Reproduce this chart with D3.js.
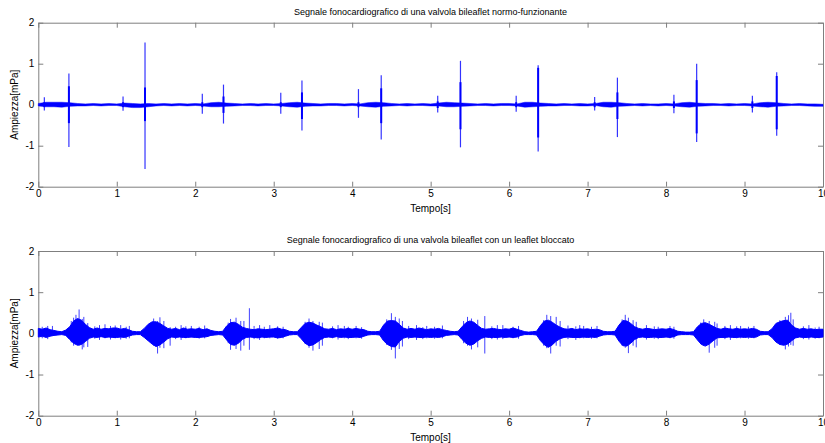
<!DOCTYPE html>
<html>
<head>
<meta charset="utf-8">
<script src="https://cdn.jsdelivr.net/npm/d3@7"></script>
<style>
  body { margin: 0; background: #fff; }
  text { font-family: "Liberation Sans", Arial, sans-serif; fill: #000; }
  .axis path, .axis line { stroke: #7f7f7f; }
  .axis text { font-size: 10px; }
</style>
</head>
<body>
<div id="chart"></div>
<script>
// ---- data ----
// top plot: baseline envelope every 0.1 s
var topHi = [
  .03,.06,.06,.06,.05,.03,.02,.03,.02,.03,
  .02,.04,.03,.02,.03,.02,.03,.02,.03,.02,
  .03,.02,.05,.06,.04,.03,.02,.03,.02,.03,
  .02,.03,.05,.06,.04,.03,.02,.03,.03,.02,
  .03,.02,.05,.06,.05,.03,.02,.03,.02,.03,
  .02,.04,.06,.05,.04,.03,.02,.03,.02,.03,
  .03,.02,.06,.06,.04,.03,.02,.03,.02,.03,
  .02,.03,.06,.06,.05,.03,.02,.03,.02,.02,
  .03,.02,.05,.06,.04,.03,.03,.02,.03,.02,
  .03,.02,.05,.06,.05,.03,.02,.03,.02,.02,
  .01];
var topLo = [
  -.03,-.05,-.05,-.06,-.04,-.03,-.03,-.02,-.03,-.02,
  -.02,-.05,-.07,-.07,-.05,-.03,-.02,-.03,-.02,-.03,
  -.02,-.03,-.05,-.05,-.04,-.03,-.02,-.02,-.03,-.02,
  -.02,-.03,-.05,-.06,-.04,-.03,-.03,-.02,-.02,-.03,
  -.02,-.03,-.05,-.06,-.04,-.03,-.02,-.03,-.02,-.02,
  -.03,-.03,-.05,-.05,-.04,-.03,-.02,-.02,-.03,-.02,
  -.02,-.03,-.06,-.05,-.04,-.03,-.03,-.02,-.02,-.03,
  -.03,-.02,-.05,-.06,-.04,-.03,-.02,-.03,-.02,-.03,
  -.02,-.03,-.05,-.06,-.04,-.03,-.02,-.02,-.03,-.02,
  -.02,-.03,-.05,-.06,-.04,-.03,-.02,-.02,-.03,-.04,
  -.04];
// top plot: valve clicks
var spikeT  = [0.077,0.39,1.08,1.36,2.09,2.36,3.09,3.36,4.08,4.37,5.09,5.38,6.09,6.37,7.09,7.38,8.10,8.39,9.10,9.41];
var spikeHi = [0.18,0.76,0.20,1.52,0.27,0.49,0.29,0.59,0.38,0.72,0.22,1.07,0.22,0.96,0.19,0.66,0.24,1.00,0.22,0.79];
var spikeLo = [-0.14,-1.03,-0.15,-1.57,-0.22,-0.46,-0.22,-0.63,-0.32,-0.85,-0.19,-1.04,-0.17,-1.14,-0.14,-0.79,-0.21,-0.91,-0.19,-0.76];
var coreHi  = [0.06,0.45,0.06,0.42,0.06,0.20,0.06,0.30,0.06,0.40,0.08,0.55,0.06,0.90,0.06,0.30,0.08,0.60,0.08,0.70];
var coreLo  = [-0.06,-0.45,-0.06,-0.40,-0.06,-0.20,-0.06,-0.35,-0.06,-0.45,-0.08,-0.60,-0.06,-0.80,-0.06,-0.35,-0.08,-0.70,-0.08,-0.60];

// bottom plot: envelope every 0.05 s
var botHi = [
  .12,.10,.13,.09,.07,.05,.04,.08,.16,.30,.36,.32,.22,.14,.10,.13,.10,.12,.11,.13,
  .13,.10,.12,.09,.05,.04,.04,.12,.22,.28,.28,.24,.18,.12,.10,.12,.09,.13,.10,.11,
  .10,.12,.09,.11,.07,.05,.04,.05,.18,.26,.27,.22,.15,.12,.10,.09,.11,.10,.09,.10,
  .11,.13,.10,.09,.05,.04,.04,.14,.24,.27,.25,.20,.16,.11,.10,.12,.09,.11,.10,.12,
  .10,.12,.10,.09,.05,.04,.04,.05,.20,.30,.31,.30,.22,.13,.10,.12,.10,.13,.11,.09,
  .11,.10,.12,.09,.07,.05,.04,.05,.16,.26,.30,.27,.19,.12,.10,.11,.12,.10,.09,.11,
  .10,.13,.10,.07,.04,.03,.04,.05,.19,.30,.32,.27,.20,.15,.11,.10,.12,.09,.11,.10,
  .11,.09,.10,.09,.05,.04,.04,.05,.20,.31,.30,.24,.16,.12,.10,.12,.11,.09,.10,.11,
  .10,.12,.09,.05,.04,.03,.03,.04,.16,.24,.26,.22,.17,.12,.10,.13,.11,.10,.12,.10,
  .11,.10,.12,.10,.05,.04,.04,.11,.24,.28,.31,.32,.20,.13,.10,.12,.10,.11,.09,.10,
  .10];
var botLo = [
  -.09,-.07,-.10,-.07,-.05,-.04,-.03,-.05,-.15,-.24,-.29,-.27,-.20,-.12,-.09,-.10,-.08,-.10,-.09,-.10,
  -.10,-.09,-.10,-.07,-.04,-.03,-.03,-.10,-.18,-.26,-.32,-.28,-.21,-.13,-.09,-.10,-.09,-.10,-.10,-.09,
  -.10,-.10,-.09,-.08,-.05,-.04,-.03,-.04,-.16,-.27,-.29,-.24,-.15,-.10,-.09,-.10,-.11,-.09,-.10,-.09,
  -.09,-.11,-.10,-.07,-.04,-.03,-.03,-.13,-.24,-.30,-.28,-.22,-.15,-.10,-.09,-.10,-.08,-.10,-.09,-.10,
  -.10,-.09,-.10,-.07,-.04,-.03,-.03,-.04,-.18,-.27,-.32,-.33,-.20,-.12,-.09,-.10,-.09,-.10,-.10,-.09,
  -.10,-.09,-.10,-.08,-.05,-.04,-.03,-.04,-.15,-.24,-.29,-.26,-.18,-.12,-.09,-.10,-.10,-.10,-.09,-.10,
  -.09,-.10,-.09,-.05,-.03,-.03,-.03,-.04,-.18,-.28,-.34,-.28,-.19,-.13,-.10,-.09,-.10,-.10,-.10,-.09,
  -.10,-.09,-.10,-.07,-.04,-.03,-.03,-.04,-.19,-.30,-.31,-.24,-.15,-.10,-.09,-.10,-.10,-.09,-.10,-.10,
  -.09,-.10,-.08,-.04,-.03,-.03,-.03,-.04,-.16,-.27,-.31,-.26,-.18,-.11,-.10,-.10,-.09,-.10,-.10,-.09,
  -.10,-.09,-.10,-.09,-.04,-.03,-.03,-.10,-.21,-.27,-.29,-.26,-.18,-.11,-.09,-.10,-.10,-.09,-.10,-.10,
  -.09];
// bottom plot: narrow peaks sticking out of the envelope
var tipT  = [0.05,0.12,0.18,0.42,0.45,0.48,0.52,0.56,0.58,0.63,0.72,0.78,0.85,0.92,0.98,1.05,1.12,1.16,
             1.42,1.47,1.52,1.55,1.60,1.68,1.75,1.82,1.88,1.95,2.05,2.12,2.42,2.45,2.52,2.58,2.62,2.69,
             2.75,2.82,2.88,2.95,3.05,3.12,3.40,3.45,3.50,3.58,3.62,3.75,3.82,3.90,3.95,4.05,4.12,
             4.44,4.50,4.55,4.60,4.64,4.72,4.82,4.90,4.95,5.05,5.15,5.42,5.47,5.52,5.60,5.69,5.78,
             5.85,5.92,6.05,6.12,6.44,6.48,6.53,6.60,6.65,6.75,6.85,6.90,6.95,7.05,7.12,7.44,7.48,
             7.52,7.58,7.62,7.75,7.85,7.90,8.05,8.10,8.44,8.48,8.55,8.62,8.65,8.75,8.82,8.90,8.95,
             9.05,9.12,9.45,9.52,9.56,9.59,9.62,9.75,9.82,9.90,9.95];
var tipHi = [0.16,0.18,0.18,0.30,0.38,0.45,0.58,0.35,0.40,0.25,0.17,0.20,0.22,0.18,0.19,0.20,0.16,0.18,
             0.25,0.36,0.30,0.39,0.30,0.15,0.16,0.20,0.17,0.18,0.16,0.19,0.26,0.35,0.38,0.30,0.30,0.61,
             0.18,0.20,0.16,0.20,0.17,0.16,0.28,0.36,0.30,0.28,0.26,0.17,0.20,0.18,0.16,0.18,0.15,
             0.34,0.49,0.40,0.36,0.30,0.18,0.20,0.15,0.18,0.16,0.19,0.30,0.40,0.36,0.33,0.42,0.17,
             0.20,0.20,0.16,0.18,0.32,0.45,0.42,0.40,0.30,0.19,0.17,0.20,0.18,0.16,0.18,0.34,0.45,
             0.38,0.32,0.28,0.20,0.17,0.16,0.18,0.16,0.26,0.34,0.30,0.28,0.24,0.18,0.20,0.17,0.18,
             0.16,0.18,0.32,0.40,0.44,0.50,0.34,0.17,0.20,0.14,0.16];
var tipLo = [-0.12,-0.14,-0.05,-0.22,-0.30,-0.25,-0.30,-0.39,-0.34,-0.33,-0.13,-0.16,-0.12,-0.15,-0.12,-0.15,-0.13,-0.12,
             -0.20,-0.30,-0.49,-0.35,-0.36,-0.30,-0.14,-0.16,-0.12,-0.10,-0.13,-0.12,-0.24,-0.40,-0.38,-0.42,-0.30,-0.40,
             -0.14,-0.16,-0.12,-0.12,-0.13,-0.12,-0.26,-0.35,-0.42,-0.38,-0.30,-0.12,-0.15,-0.12,-0.14,-0.12,-0.13,
             -0.28,-0.40,-0.61,-0.38,-0.32,-0.14,-0.16,-0.14,-0.12,-0.13,-0.12,-0.24,-0.30,-0.39,-0.34,-0.49,-0.14,
             -0.15,-0.14,-0.12,-0.13,-0.30,-0.36,-0.49,-0.30,-0.32,-0.14,-0.16,-0.12,-0.12,-0.13,-0.12,-0.30,-0.35,
             -0.48,-0.30,-0.34,-0.15,-0.13,-0.14,-0.12,-0.13,-0.26,-0.30,-0.47,-0.35,-0.30,-0.14,-0.16,-0.12,-0.12,
             -0.13,-0.12,-0.28,-0.39,-0.32,-0.28,-0.30,-0.14,-0.15,-0.13,-0.12];

var xTicks = [0,1,2,3,4,5,6,7,8,9,10];
var yTicks = [-2,-1,0,1,2];

var titles = [
  "Segnale fonocardiografico di una valvola bileaflet normo-funzionante",
  "Segnale fonocardiografico di una valvola bileaflet con un leaflet bloccato"
];

var width = 825, height = 443;
var blue = "#0000ff";

var svg = d3.select("#chart").append("svg")
    .attr("width", width)
    .attr("height", height);

var x = d3.scaleLinear().domain([0, 10]).range([38.3, 823]);

function drawAxes(top, bottom, title) {
  var y = d3.scaleLinear().domain([-2, 2]).range([bottom, top]);
  var g = svg.append("g");

  g.append("g").attr("class", "axis")
    .attr("transform", `translate(0,${bottom})`)
    .call(d3.axisBottom(x).tickValues(xTicks).tickSize(-5).tickSizeOuter(0).tickPadding(3)
      .tickFormat(d => String(d)));
  g.append("g").attr("class", "axis")
    .attr("transform", `translate(0,${top})`)
    .call(d3.axisTop(x).tickValues(xTicks).tickSize(-5).tickSizeOuter(0).tickFormat(""));
  g.append("g").attr("class", "axis")
    .attr("transform", "translate(38.3,0)")
    .call(d3.axisLeft(y).tickValues(yTicks).tickSize(-5).tickSizeOuter(0).tickPadding(4)
      .tickFormat(d => String(d)));
  g.append("g").attr("class", "axis")
    .attr("transform", "translate(823,0)")
    .call(d3.axisRight(y).tickValues(yTicks).tickSize(-5).tickSizeOuter(0).tickFormat(""));

  g.append("text")
    .attr("x", 430.5).attr("y", top - 8)
    .attr("text-anchor", "middle")
    .style("font-size", "9px")
    .text(title);

  g.append("text")
    .attr("x", 430.5).attr("y", bottom + 25)
    .attr("text-anchor", "middle")
    .style("font-size", "10px")
    .text("Tempo[s]");

  g.append("text")
    .attr("transform", `translate(18,${(top + bottom) / 2})rotate(-90)`)
    .attr("text-anchor", "middle")
    .style("font-size", "10px")
    .text("Ampiezza[mPa]");

  return y;
}

// ---- top subplot ----
var yTop = drawAxes(22.7, 186.7, titles[0]);
var topT = topHi.map((d, i) => i * 0.1);

var topArea = d3.area()
    .x((d, i) => x(topT[i]))
    .y0((d, i) => yTop(topLo[i]))
    .y1(d => yTop(d));

svg.append("path")
    .datum(topHi)
    .attr("d", topArea)
    .attr("fill", blue)
    .attr("stroke", blue)
    .attr("stroke-width", 0.5);

svg.append("g").selectAll("line")
    .data(spikeT)
    .enter().append("line")
    .attr("x1", d => x(d)).attr("x2", d => x(d))
    .attr("y1", (d, i) => yTop(spikeHi[i]))
    .attr("y2", (d, i) => yTop(spikeLo[i]))
    .attr("stroke", blue)
    .attr("stroke-opacity", 0.8)
    .attr("stroke-width", 1.2);

svg.append("g").selectAll("line")
    .data(spikeT)
    .enter().append("line")
    .attr("x1", d => x(d)).attr("x2", d => x(d))
    .attr("y1", (d, i) => yTop(coreHi[i]))
    .attr("y2", (d, i) => yTop(coreLo[i]))
    .attr("stroke", blue)
    .attr("stroke-width", 2);

// ---- bottom subplot ----
var yBot = drawAxes(251, 415.7, titles[1]);
var botT = botHi.map((d, i) => i * 0.05);

var botArea = d3.area()
    .x((d, i) => x(botT[i]))
    .y0((d, i) => yBot(botLo[i]))
    .y1(d => yBot(d));

svg.append("path")
    .datum(botHi)
    .attr("d", botArea)
    .attr("fill", blue)
    .attr("stroke", blue)
    .attr("stroke-width", 1);

svg.append("g").selectAll("line")
    .data(tipT)
    .enter().append("line")
    .attr("x1", d => x(d)).attr("x2", d => x(d))
    .attr("y1", (d, i) => yBot(tipHi[i]))
    .attr("y2", (d, i) => yBot(tipLo[i]))
    .attr("stroke", blue)
    .attr("stroke-opacity", 0.75)
    .attr("stroke-width", 1);
</script>
</body>
</html>
